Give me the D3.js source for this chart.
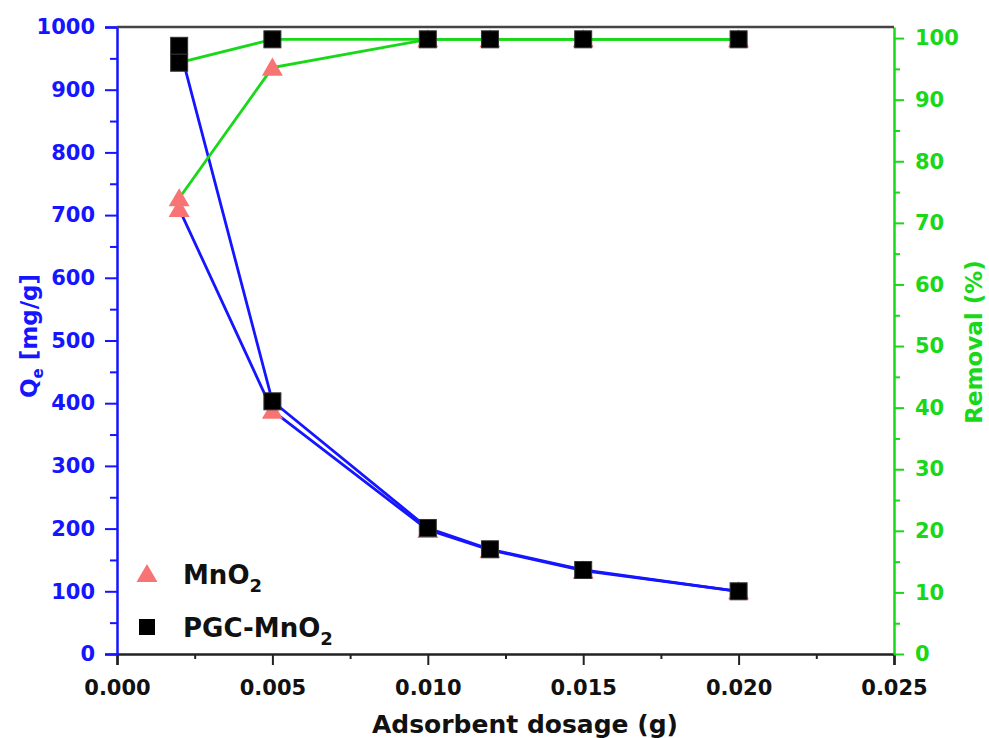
<!DOCTYPE html>
<html>
<head>
<meta charset="utf-8">
<script src="https://cdn.jsdelivr.net/npm/d3@7"></script>
<style>
  body { margin: 0; background: #fff; }
  svg text { font-family: "DejaVu Sans", "Liberation Sans", sans-serif; font-weight: bold; }
</style>
</head>
<body>
<div id="chart"></div>
<script>
// dosage values (g)
var dosage = [0.002, 0.005, 0.010, 0.012, 0.015, 0.020];
// Qe (mg/g), left axis
var qeMnO2 = [710, 388, 198, 166, 133, 100];
var qePGC = [970, 403, 201, 167, 134, 100];
// removal (%), right axis
var remMnO2 = [74, 95.2, 99.8, 99.8, 99.8, 99.8];
var remPGC = [96, 99.8, 99.8, 99.8, 99.8, 99.8];

var xTicks = [0.000, 0.005, 0.010, 0.015, 0.020, 0.025];
var leftTicks = [0, 100, 200, 300, 400, 500, 600, 700, 800, 900, 1000];
var rightTicks = [0, 10, 20, 30, 40, 50, 60, 70, 80, 90, 100];

var blue = "#1515ff";
var green = "#18d818";
var pink = "#f87474";

var width = 989, height = 738;
var margin = { top: 27, right: 95, bottom: 84, left: 117 };
var chartWidth = width - margin.left - margin.right;
var chartHeight = height - margin.top - margin.bottom;

var svg = d3.select("#chart").append("svg")
  .attr("width", width)
  .attr("height", height);
var g = svg.append("g")
  .attr("transform", `translate(${margin.left}, ${margin.top})`);

var xScale = d3.scaleLinear().domain([0, 0.025]).range([0, chartWidth]);
var yLeft = d3.scaleLinear().domain([0, 1000]).range([chartHeight, 0]);
// right axis: 100 % sits a bit below the top frame
var yRight = d3.scaleLinear().domain([0, 101.8]).range([chartHeight, 0]);

// minor ticks first, then major ones
g.append("g")
  .attr("transform", `translate(0, ${chartHeight})`)
  .call(d3.axisBottom(xScale).tickValues(d3.range(0.0025, 0.025, 0.005)).tickSize(5).tickFormat(""))
  .call(a => a.select(".domain").remove())
  .selectAll("line").attr("stroke", "#222").attr("stroke-width", 2);

g.append("g")
  .attr("class", "x axis")
  .attr("transform", `translate(0, ${chartHeight})`)
  .call(d3.axisBottom(xScale).tickValues(xTicks).tickSize(11).tickPadding(15).tickFormat(d3.format(".3f")))
  .call(a => a.select(".domain").attr("stroke", "#222").attr("stroke-width", 2.5))
  .call(a => a.selectAll("line").attr("stroke", "#222").attr("stroke-width", 2))
  .call(a => a.selectAll("text").attr("fill", "#111").style("font-size", "21px"));

g.append("g")
  .call(d3.axisLeft(yLeft).tickValues(d3.range(50, 1000, 100)).tickSize(7).tickFormat(""))
  .call(a => a.select(".domain").remove())
  .selectAll("line").attr("stroke", blue).attr("stroke-width", 2);

g.append("g")
  .attr("class", "y axis")
  .call(d3.axisLeft(yLeft).tickValues(leftTicks).tickSize(12).tickPadding(10).tickFormat(d3.format("d")))
  .call(a => a.select(".domain").attr("stroke", blue).attr("stroke-width", 2.5))
  .call(a => a.selectAll("line").attr("stroke", blue).attr("stroke-width", 2))
  .call(a => a.selectAll("text").attr("fill", blue).style("font-size", "21px"));

g.append("g")
  .attr("transform", `translate(${chartWidth}, 0)`)
  .call(d3.axisRight(yRight).tickValues(d3.range(5, 100, 10)).tickSize(6).tickFormat(""))
  .call(a => a.select(".domain").remove())
  .selectAll("line").attr("stroke", green).attr("stroke-width", 2);

g.append("g")
  .attr("class", "y2 axis")
  .attr("transform", `translate(${chartWidth}, 0)`)
  .call(d3.axisRight(yRight).tickValues(rightTicks).tickSize(10).tickPadding(11).tickSizeOuter(0))
  .call(a => a.select(".domain").attr("stroke", green).attr("stroke-width", 2.5))
  .call(a => a.selectAll("line").attr("stroke", green).attr("stroke-width", 2))
  .call(a => a.selectAll("text").attr("fill", green).style("font-size", "21px"));

// top frame line
g.append("line")
  .attr("x1", 0).attr("x2", chartWidth)
  .attr("y1", 0).attr("y2", 0)
  .attr("stroke", "#444").attr("stroke-width", 2.5);

// lines
var series = [
  { vals: qeMnO2, y: yLeft, color: blue },
  { vals: qePGC, y: yLeft, color: blue },
  { vals: remMnO2, y: yRight, color: green },
  { vals: remPGC, y: yRight, color: green }
];
series.forEach(s => {
  var line = d3.line().x((d, i) => xScale(dosage[i])).y(d => s.y(d));
  g.append("path")
    .datum(s.vals)
    .attr("fill", "none")
    .attr("stroke", s.color)
    .attr("stroke-width", 2.8)
    .attr("d", line);
});

// markers
var tri = d3.symbol().type(d3.symbolTriangle).size(190);
function drawTriangles(vals, y) {
  g.append("g").selectAll("path")
    .data(vals)
    .enter()
    .append("path")
    .attr("d", tri)
    .attr("fill", pink)
    .attr("transform", (d, i) => `translate(${xScale(dosage[i])}, ${y(d) + 2})`);
}
function drawSquares(vals, y) {
  g.append("g").selectAll("rect")
    .data(vals)
    .enter()
    .append("rect")
    .attr("x", (d, i) => xScale(dosage[i]) - 8.5)
    .attr("y", d => y(d) - 8.5)
    .attr("width", 17)
    .attr("height", 17)
    .attr("fill", "#000")
    .attr("stroke", "#333")
    .attr("stroke-width", 1);
}
drawTriangles(qeMnO2, yLeft);
drawTriangles(remMnO2, yRight);
drawSquares(qePGC, yLeft);
drawSquares(remPGC, yRight);

// axis titles
var qTitle = svg.append("text")
  .attr("transform", "translate(37, 336) rotate(-90)")
  .attr("text-anchor", "middle")
  .attr("fill", blue)
  .style("font-size", "23px");
qTitle.append("tspan").text("Q");
qTitle.append("tspan").attr("dy", 6).style("font-size", "15px").text("e");
qTitle.append("tspan").attr("dy", -6).text(" [mg/g]");

svg.append("text")
  .attr("transform", "translate(982, 342) rotate(-90)")
  .attr("text-anchor", "middle")
  .attr("fill", green)
  .style("font-size", "23px")
  .text("Removal (%)");

svg.append("text")
  .attr("x", 525)
  .attr("y", 733)
  .attr("text-anchor", "middle")
  .attr("fill", "#111")
  .style("font-size", "25px")
  .text("Adsorbent dosage (g)");

// legend
var legend = [
  { name: "MnO", shape: "tri", y: 574 },
  { name: "PGC-MnO", shape: "sq", y: 627 }
];
legend.forEach(l => {
  if (l.shape === "tri") {
    svg.append("path").attr("d", tri)
      .attr("fill", pink)
      .attr("transform", `translate(147, ${l.y + 2})`);
  } else {
    svg.append("rect")
      .attr("x", 139).attr("y", l.y - 8)
      .attr("width", 16).attr("height", 16)
      .attr("fill", "#000");
  }
  var t = svg.append("text")
    .attr("x", 183)
    .attr("y", l.y + 10)
    .attr("fill", "#111")
    .style("font-size", "26px");
  t.append("tspan").text(l.name);
  t.append("tspan").attr("dy", 8).style("font-size", "18px").text("2");
});
</script>
</body>
</html>
